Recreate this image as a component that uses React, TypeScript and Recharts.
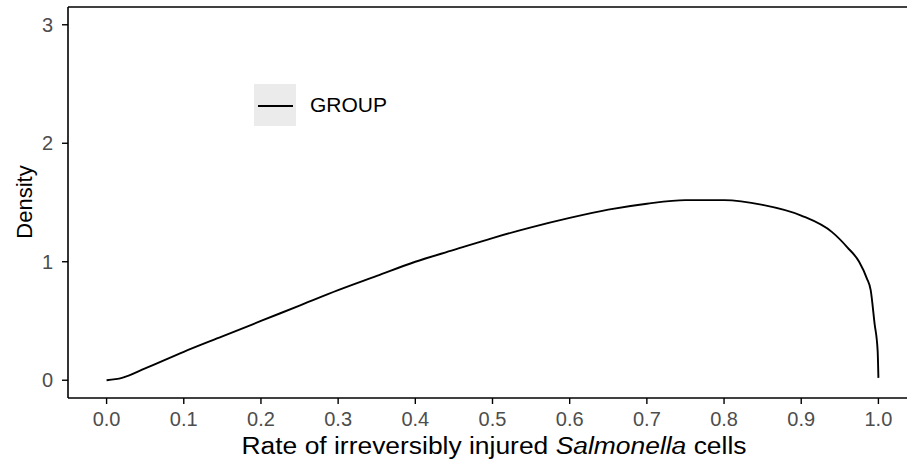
import { LineChart, Line, XAxis, YAxis, ReferenceLine } from 'recharts'

const rates = [
  0, 0.02, 0.05, 0.1, 0.15, 0.2, 0.25, 0.3, 0.35, 0.4, 0.45, 0.5, 0.55, 0.6, 0.65, 0.7, 0.75,
  0.8, 0.85, 0.9, 0.94, 0.96, 0.975, 0.985, 0.99, 0.995, 0.999, 1.0,
]
const density = [
  0, 0.02, 0.1, 0.24, 0.37, 0.5, 0.63, 0.76, 0.88, 1.0, 1.1, 1.2, 1.29, 1.37, 1.44, 1.49, 1.52,
  1.52, 1.48, 1.39, 1.25, 1.12, 1.0, 0.86, 0.76, 0.48, 0.25, 0.02,
]
const xTicks = [0, 0.1, 0.2, 0.3, 0.4, 0.5, 0.6, 0.7, 0.8, 0.9, 1.0]
const yTicks = [0, 1, 2, 3]
const seriesName = 'GROUP'

const data = rates.map((x, i) => ({ x, y: density[i] }))

const FONT = '"Liberation Sans", Arial, sans-serif'
const tickStyle = { fontSize: 20, fill: '#4d4d4d', fontFamily: FONT }

export default function App() {
  return (
    <div style={{ position: 'absolute', left: 0, top: 0, width: 907, height: 466, overflow: 'hidden', background: '#fff' }}>
      <LineChart width={960} height={466} data={data} margin={{ top: 7, right: 43, left: 8, bottom: 18 }}>
        <XAxis
          dataKey="x"
          type="number"
          domain={[-0.05, 1.05]}
          ticks={xTicks}
          allowDataOverflow
          tickFormatter={(v: number) => v.toFixed(1)}
          tick={tickStyle}
          tickSize={6}
          tickMargin={8}
          height={50}
          axisLine={{ stroke: '#000', strokeWidth: 1.6 }}
          tickLine={{ stroke: '#000', strokeWidth: 1.4 }}
          label={{
            content: () => (
              <text
                x={494}
                y={454}
                textAnchor="middle"
                fontSize={23}
                fontFamily={FONT}
                fill="#000"
                textLength={505}
                lengthAdjust="spacingAndGlyphs"
              >
                Rate of irreversibly injured <tspan fontStyle="italic">Salmonella</tspan> cells
              </text>
            ),
          }}
        />
        <YAxis
          type="number"
          domain={[-0.15, 3.15]}
          ticks={yTicks}
          allowDataOverflow
          tick={tickStyle}
          tickSize={6}
          tickMargin={9}
          width={60}
          axisLine={{ stroke: '#000', strokeWidth: 1.6 }}
          tickLine={{ stroke: '#000', strokeWidth: 1.4 }}
          label={{
            content: () => (
              <text x={32} y={202} textAnchor="middle" fontSize={22} fontFamily={FONT} fill="#000" transform="rotate(-90 32 202)">
                Density
              </text>
            ),
          }}
        />
        <ReferenceLine y={3.15} stroke="#000" strokeWidth={1.6} ifOverflow="visible" />
        <ReferenceLine x={1.05} stroke="#000" strokeWidth={1.6} ifOverflow="visible" />
        <Line
          type="monotone"
          dataKey="y"
          name={seriesName}
          stroke="#000"
          strokeWidth={1.9}
          dot={false}
          isAnimationActive={false}
        />
      </LineChart>
      <div style={{ position: 'absolute', left: 254, top: 84, display: 'flex', alignItems: 'center', fontFamily: FONT }}>
        <svg width={42} height={42} style={{ display: 'block' }}>
          <rect x={0} y={0} width={42} height={42} fill="#ebebeb" />
          <line x1={4} y1={22} x2={39} y2={22} stroke="#000" strokeWidth={1.8} />
        </svg>
        <span style={{ marginLeft: 14, fontSize: 21, color: '#000' }}>{seriesName}</span>
      </div>
    </div>
  )
}
